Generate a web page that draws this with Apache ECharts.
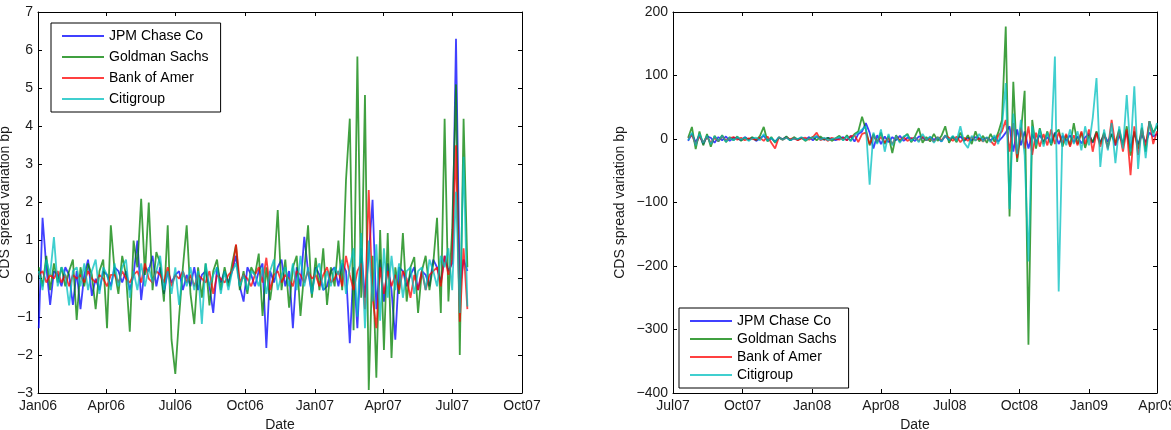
<!DOCTYPE html>
<html>
<head>
<meta charset="utf-8">
<script src="https://cdn.jsdelivr.net/npm/echarts@6/dist/echarts.min.js"></script>
<style>
html,body{margin:0;padding:0;background:#fff;}
#chart{width:1171px;height:430px;}
</style>
</head>
<body>
<div id="chart"></div>
<script>
// ---------- data ----------
const seriesNames = ['JPM Chase Co', 'Goldman Sachs', 'Bank of Amer', 'Citigroup'];
const monthNames = ['Jan','Feb','Mar','Apr','May','Jun','Jul','Aug','Sep','Oct','Nov','Dec'];

// Panel 1: sampled every 5 days from 2 Jan 2006 (114 samples)
const startA = [2006, 0, 2];
const jpmA = [-1.3,1.6,0.3,-0.69,0.2,0.1,-0.2,0.3,0.1,-0.69,
 0.2,-0.8,0.1,0.5,-0.45,0.0,-0.3,0.2,0.1,-0.2,
 0.3,0.2,-0.1,0.2,-0.3,0.1,1.0,-0.56,0.3,0.2,
 0.6,-0.2,0.3,-0.4,0.2,-0.1,0.1,0.2,-0.3,0.1,
 -0.2,0.3,-0.3,0.1,0.2,-0.2,-0.9,0.3,-0.1,0.2,
 -0.1,0.2,0.6,-0.2,-0.6,0.3,0.1,-0.2,0.2,0.4,
 -1.82,0.2,-0.1,0.3,0.5,-0.2,0.2,-1.3,0.3,-0.2,
 1.1,0.2,-0.4,0.3,0.1,-0.3,-0.2,0.2,0.3,-0.2,
 0.4,0.2,-1.69,0.3,-1.3,0.8,-0.5,0.6,2.07,-0.8,
 0.5,-0.6,0.4,-0.3,-1.6,0.3,0.2,-0.2,0.1,0.3,
 -0.3,0.2,0.1,-0.2,0.5,0.3,-0.1,0.6,0.2,0.4,
 6.3,-0.3,0.5,0.2];
const gsA = [0.3,-0.2,0.6,-0.3,0.4,-0.1,0.3,-0.2,0.2,0.5,
 -1.08,0.3,-0.2,0.4,0.1,-0.8,0.2,0.5,-1.3,1.4,
 0.2,-0.4,0.6,0.1,-1.39,1.0,0.3,2.1,0.1,2.0,
 -0.3,0.7,0.4,-0.6,1.4,-1.6,-2.5,-1.0,0.3,1.4,
 -0.4,-1.19,0.3,-0.5,0.4,-0.7,0.2,0.5,-0.3,0.3,
 -0.2,0.4,0.88,-0.3,0.2,-0.4,0.3,0.1,0.66,-0.98,
 0.3,-0.56,0.2,1.8,-0.3,0.5,-0.76,0.3,0.6,-0.98,
 0.2,1.4,-0.5,0.55,-0.3,0.8,-0.69,0.3,-0.2,1.0,
 -0.3,2.59,4.2,-1.35,5.83,-0.5,4.82,-2.92,0.6,-2.6,
 1.28,-1.87,1.2,-2.08,0.3,-0.4,1.2,-0.6,0.3,0.57,
 -0.9,0.2,0.6,-0.3,0.4,1.6,-0.9,4.2,-0.6,1.3,
 5.1,-2.0,4.2,0.3];
const bacA = [0.1,0.2,-0.1,0.1,0.0,0.2,-0.1,0.1,-0.2,0.1,
 0.0,0.1,-0.1,0.2,0.0,-0.1,0.1,0.0,-0.2,0.1,
 0.1,-0.1,0.2,0.0,-0.1,0.1,0.2,-0.1,0.4,0.0,
 -0.1,0.2,0.1,-0.1,0.3,-0.2,0.1,0.0,0.2,-0.1,
 0.1,-0.2,0.1,0.0,-0.1,0.2,-0.4,0.1,0.0,-0.1,
 0.1,0.2,0.9,-0.1,0.1,0.0,-0.2,0.1,0.3,-0.1,
 0.55,-0.3,0.1,0.2,-0.1,0.1,0.0,-0.2,0.2,0.1,
 -0.1,0.2,0.0,0.1,-0.2,0.1,0.3,-0.1,0.0,0.2,
 -0.2,0.6,0.1,-0.3,0.2,0.4,-0.8,2.33,-0.5,-1.3,
 0.3,-0.4,0.2,-0.2,0.1,-0.3,0.2,0.0,-0.5,0.1,
 -0.3,0.2,-0.3,0.1,0.2,0.3,-0.2,0.6,0.1,0.5,
 3.5,-1.13,0.8,-0.8];
const citiA = [0.2,-0.3,0.5,0.1,1.09,-0.2,0.3,0.1,-0.7,0.2,
 0.3,-0.2,0.4,-0.3,0.2,0.5,-0.4,0.3,0.1,-0.3,
 0.4,-0.2,0.3,0.5,-0.5,0.2,-0.3,0.4,-0.2,0.3,
 -0.1,0.2,0.6,-0.3,0.2,-0.4,0.3,-0.69,0.2,-0.2,
 0.3,-0.3,0.2,-1.19,0.4,-0.2,0.1,0.3,-0.4,0.2,
 -0.3,0.2,0.4,-0.2,0.1,-0.3,0.2,0.1,-0.2,0.3,
 -0.4,0.2,0.5,-0.3,0.1,0.3,-0.2,0.4,-0.3,0.6,
 -0.2,0.3,-0.4,0.2,0.4,-0.3,0.2,-0.2,0.3,0.1,
 0.5,-0.4,0.3,0.8,-1.0,1.2,-1.3,1.0,-0.6,0.9,
 -1.1,0.8,-0.5,0.6,-0.3,0.4,-0.5,0.2,0.3,-0.4,
 0.2,0.3,-0.3,0.5,0.2,-0.2,0.6,0.3,0.8,-0.3,
 2.28,-0.9,3.2,-0.73];

// Panel 2: sampled every 5 days from 21 Jul 2007 (125 samples)
const startB = [2007, 6, 21];
const jpmB = [-3,8,-5,6,-8,4,2,-6,3,-2,
 4,-3,2,1,-2,3,-1,2,-3,1,
 5,-2,1,-4,2,0,3,-2,1,-1,
 2,-1,3,-2,4,1,-1,2,0,-2,
 1,3,-2,5,-4,8,12,25,10,-15,
 6,-8,4,-5,3,-2,5,-3,2,1,
 -3,4,2,-2,3,-1,2,-4,5,-2,
 3,-1,4,-3,2,-2,3,1,-1,2,
 -2,3,-4,2,10,20,-20,15,-10,12,
 -15,8,-5,6,-4,3,-6,10,-8,5,
 -3,6,-5,4,-7,3,8,-6,10,-5,
 6,-4,8,-10,5,-6,12,-15,10,-8,
 6,-5,10,4,8];
const gsB = [2,19,-16,12,-10,8,-12,5,-4,6,
 -5,3,-2,4,-3,2,-1,3,-2,5,
 19,-4,3,-6,2,-1,4,-2,3,-1,
 2,-3,1,3,-2,4,-1,2,-3,1,
 5,-2,6,-3,8,12,35,15,-10,8,
 -6,10,-8,5,-22,6,-4,3,8,-5,
 4,17,-6,3,-4,8,-3,5,20,-6,
 4,-5,10,-3,6,-8,12,-4,5,-6,
 8,-4,10,30,177,-122,90,-36,10,76,
 -324,30,-15,17,-8,12,-10,8,15,-12,
 6,-10,25,-8,10,-14,6,-5,12,-8,
 10,-12,8,-6,15,-10,20,-26,12,-15,
 18,-20,28,10,20];
const bacB = [1,6,-8,4,-5,3,-6,2,-3,4,
 -2,1,3,-1,2,-2,1,0,-1,2,
 -3,4,-6,-15,3,-1,2,0,1,-2,
 1,2,-1,3,10,-2,1,-3,2,0,
 -1,2,-2,4,6,-5,8,10,-8,5,
 -4,3,-6,2,-8,4,-2,3,-3,1,
 2,-3,4,-2,1,-4,3,-2,5,2,
 -3,4,-5,2,-3,3,-2,1,-4,2,
 -3,-10,5,12,30,-20,25,-30,18,-15,
 20,-25,10,-12,8,-10,15,-8,10,-6,
 8,-12,6,-10,12,-8,15,-20,10,-12,
 8,-15,30,-10,12,-20,15,-57,20,-25,
 15,-10,28,-8,12];
const citiB = [-2,10,-10,8,-6,5,-8,4,-3,5,
 -4,2,-2,3,-1,2,-3,1,2,-2,
 8,-3,2,-5,3,-1,2,-2,1,0,
 3,-2,1,2,5,-1,2,-2,0,1,
 3,-2,4,-3,6,10,15,20,-72,10,
 -8,15,-20,8,-10,5,-6,4,6,-3,
 3,-5,8,-2,4,-6,3,-4,6,-2,
 5,-3,20,-6,-14,5,-3,8,-4,3,
 -5,6,-8,20,88,-110,40,-24,30,-26,
 -193,20,-10,15,-12,10,-8,130,-240,10,
 -10,15,-8,12,-18,20,-10,33,96,-44,
 15,-18,25,-38,20,-15,69,-20,83,-47,
 25,-30,28,5,25];

// axis ranges
const rangeA = {xMin: [2006, 0, 1], xMax: [2007, 9, 1], yMin: -3, yMax: 7, yStep: 1};
const rangeB = {xMin: [2007, 6, 1], xMax: [2009, 3, 1], yMin: -400, yMax: 200, yStep: 100};

// ---------- helpers ----------
const DAY = 86400000;
const FONT = 'Liberation Sans';
const colors = ['#0000ff', '#008000', '#ff0000', '#00bfbf'];

function sampleDates(start, n, step) {
  const out = [];
  for (let k = 0; k < n; k++) out.push(new Date(start[0], start[1], start[2] + k * step).getTime());
  return out;
}
function toDate(a) { return new Date(a[0], a[1], a[2]).getTime(); }
function fmtMonth(v) {
  const d = new Date(v);
  return monthNames[d.getMonth()] + String(d.getFullYear() % 100).padStart(2, '0');
}
function fmtNum(v) { return v < 0 ? '\u2212' + Math.abs(v) : String(v); }

const txt = {fontFamily: FONT, fontSize: 14, color: '#1a1a1a'};

function xAxisDef(grid, rng, pos, labels) {
  return {
    type: 'time', gridIndex: grid, position: pos,
    min: toDate(rng.xMin), max: toDate(rng.xMax),
    minInterval: 91 * DAY, maxInterval: 91 * DAY, splitNumber: 7,
    axisLine: {show: true, onZero: false, lineStyle: {color: '#000', width: 1}},
    axisTick: {show: true, inside: true, length: 4, lineStyle: {color: '#000', width: 1}},
    axisLabel: Object.assign({show: labels, formatter: fmtMonth, margin: 6,
      showMinLabel: true, showMaxLabel: true, hideOverlap: false}, txt),
    minorTick: {show: false},
    splitLine: {show: false},
    name: labels ? 'Date' : '', nameLocation: 'middle', nameGap: 23,
    nameTextStyle: txt
  };
}
function yAxisDef(grid, rng, pos, labels, gap) {
  return {
    type: 'value', gridIndex: grid, position: pos,
    min: rng.yMin, max: rng.yMax, interval: rng.yStep,
    axisLine: {show: true, onZero: false, lineStyle: {color: '#000', width: 1}},
    axisTick: {show: true, inside: true, length: 4, lineStyle: {color: '#000', width: 1}},
    axisLabel: Object.assign({show: labels, formatter: fmtNum, margin: 5}, txt),
    splitLine: {show: false},
    name: labels ? 'CDS spread variation bp' : '', nameLocation: 'middle', nameGap: gap,
    nameRotate: 90, nameTextStyle: txt
  };
}

const datesA = sampleDates(startA, jpmA.length, 5);
const datesB = sampleDates(startB, jpmB.length, 5);

function lines(dates, arrs, axisIdx) {
  return arrs.map((vals, s) => ({
    type: 'line', name: seriesNames[s], xAxisIndex: axisIdx, yAxisIndex: axisIdx,
    data: dates.map((t, i) => [t, vals[i]]),
    showSymbol: false, symbol: 'none', color: colors[s],
    lineStyle: {width: 1.8, opacity: 0.75, color: colors[s]},
    emphasis: {disabled: true}, silent: true, animation: false, clip: true
  }));
}

const legendBase = {
  orient: 'vertical', itemWidth: 42, itemHeight: 14,
  borderColor: '#000', borderWidth: 1, borderRadius: 0, backgroundColor: '#fff',
  textStyle: {fontFamily: FONT, fontSize: 14, color: '#000'},
  itemStyle: {opacity: 0, borderWidth: 0},
  lineStyle: {width: 2},
  data: seriesNames, selectedMode: false
};

const option = {
  animation: false,
  backgroundColor: '#fff',
  grid: [
    {left: 38, top: 12, width: 484, height: 381, containLabel: false, outerBoundsMode: 'none'},
    {left: 673, top: 12, width: 484, height: 381, containLabel: false, outerBoundsMode: 'none'}
  ],
  xAxis: [
    xAxisDef(0, rangeA, 'bottom', true),
    xAxisDef(1, rangeB, 'bottom', true),
    xAxisDef(0, rangeA, 'top', false),
    xAxisDef(1, rangeB, 'top', false)
  ],
  yAxis: [
    yAxisDef(0, rangeA, 'left', true, 26),
    yAxisDef(1, rangeB, 'left', true, 46),
    yAxisDef(0, rangeA, 'right', false, 0),
    yAxisDef(1, rangeB, 'right', false, 0)
  ],
  legend: [
    Object.assign({}, legendBase, {left: 51, top: 23, itemGap: 7, padding: [6, 12, 6, 10]}),
    Object.assign({}, legendBase, {left: 679, top: 308, itemGap: 4, padding: [6, 12, 6, 10]})
  ],
  series: [].concat(
    lines(datesA, [jpmA, gsA, bacA, citiA], 0),
    lines(datesB, [jpmB, gsB, bacB, citiB], 1)
  )
};

const chart = echarts.init(document.getElementById('chart'), null, {renderer: 'canvas'});
chart.setOption(option);
</script>
</body>
</html>
